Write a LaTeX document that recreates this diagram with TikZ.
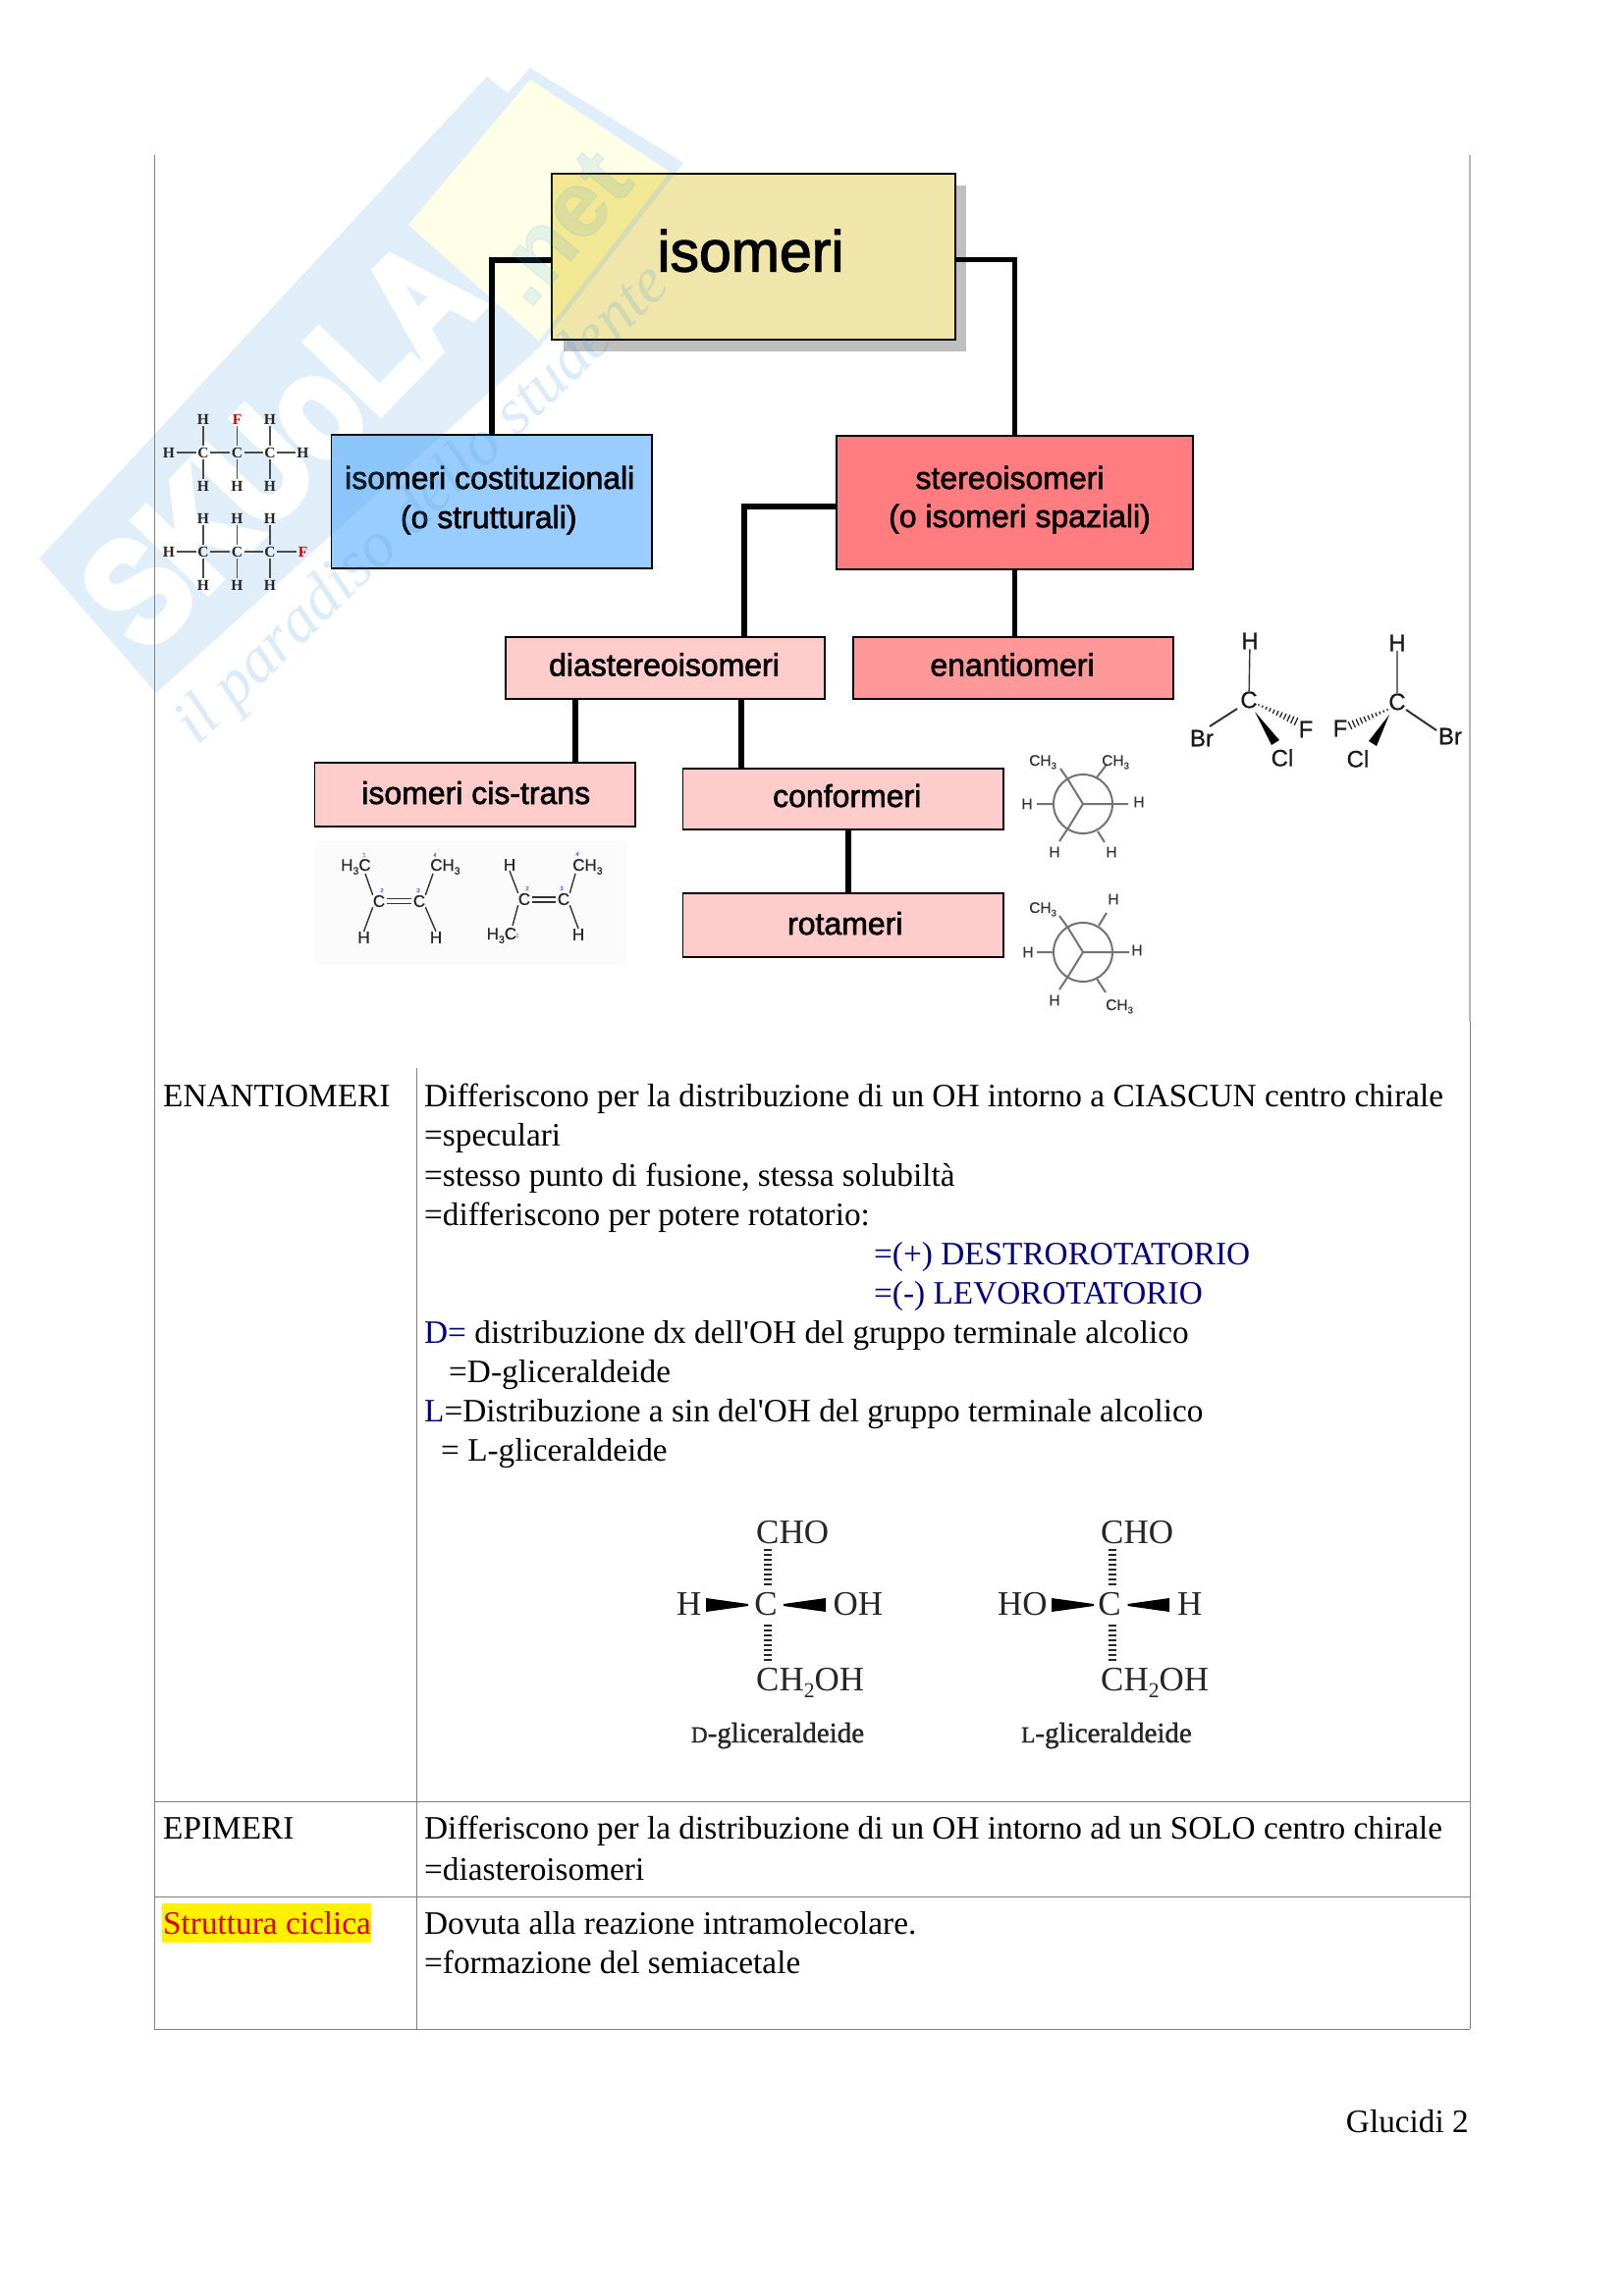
\documentclass[tikz,border=0pt]{standalone}
\usepackage{fontspec}
\usetikzlibrary{calc}
\setmainfont{Liberation Serif}
\newfontfamily\tnr{Liberation Serif}
\newfontfamily\arialf[FakeBold=0.6]{Liberation Sans}
\newfontfamily\arialb[FakeBold=2]{Liberation Sans}
\newfontfamily\arialheavy[FakeBold=6]{Liberation Sans Bold}
\newfontfamily\arialnet[FakeBold=1]{Liberation Sans Bold}
\newfontfamily\serifb[FakeBold=1.2]{Liberation Serif}
\definecolor{tline}{HTML}{808080}
\definecolor{wblue}{HTML}{DFEEF8}
\definecolor{wyellow}{HTML}{FFFFE8}
\definecolor{navytext}{HTML}{000080}
\definecolor{ovblue}{HTML}{4DA3DC}
\newcommand\lab[3]{\rlap{\hspace*{#1pt}\makebox[0pt][c]{\raisebox{#2pt}[0pt][0pt]{#3}}}}
\newcommand\sz[1]{\fontsize{#1}{#1}\selectfont}
\newcommand\chsub[1]{\raisebox{-.22em}{\scalebox{.62}{#1}}}
\tikzset{
  tbl/.style={draw=tline,line width=1pt},
  tx/.style={inner sep=0pt,anchor=base west,font=\tnr\sz{33.3}},
  blu/.style={tx,text=navytext},
  chartbox/.style={draw=black,line width=1.8pt,inner sep=0pt,outer sep=0pt,anchor=north west,font=\arialb\sz{32}},
  conn/.style={draw=black,line width=5.5pt},
  ethatom/.style={inner sep=1.5pt,font=\bfseries\sz{15.5},text=black!85},
  ethbond/.style={draw=black!70,line width=1.2pt},
  hfont/.style={inner sep=0pt,font=\arialf\sz{17},text=black!85},
  cbond/.style={draw=black!80,line width=1.4pt},
  nfont/.style={inner sep=0pt,font=\arialf\sz{15.5},text=black!80},
  nline/.style={draw=black!55,line width=2pt},
  num/.style={inner sep=0pt,font=\arialf\sz{6},text=blue!60},
  sfont/.style={inner sep=0pt,font=\arialf\sz{24},text=black!90},
  gl/.style={inner sep=0pt,anchor=base west,font=\sz{35},text=black!85},
  gltitle/.style={inner sep=0pt,anchor=base,font=\serifb\sz{29},text=black!85},
  hashl/.style={draw=black!85,line width=1.3pt},
}
\newcommand\ethanemol[4]{%
  \node[ethatom] (#1c1) at (207,#2) {C};
  \node[ethatom] (#1c2) at (241.5,#2) {C};
  \node[ethatom] (#1c3) at (275,#2) {C};
  \node[ethatom] (#1l) at (172,#2) {H};
  \node[ethatom] (#1r) at (308.5,#2) {#4};
  \node[ethatom] (#1t1) at (207,#2-34) {H};
  \node[ethatom] (#1t2) at (241.5,#2-34) {#3};
  \node[ethatom] (#1t3) at (275,#2-34) {H};
  \node[ethatom] (#1b1) at (207,#2+34) {H};
  \node[ethatom] (#1b2) at (241.5,#2+34) {H};
  \node[ethatom] (#1b3) at (275,#2+34) {H};
  \draw[ethbond] (#1l)--(#1c1)--(#1c2)--(#1c3)--(#1r);
  \draw[ethbond] (#1t1)--(#1c1)--(#1b1) (#1t2)--(#1c2)--(#1b2) (#1t3)--(#1c3)--(#1b3);
}
\begin{document}
\begin{tikzpicture}[x=1pt,y=-1pt]
\useasboundingbox (0,0) rectangle (1653,2339);
\fill[white] (0,0) rectangle (1653,2339);
% ---- watermark, back part
\fill[wblue] (40,569)--(496,78)--(517,95)--(540,69)--(696,166)--(549,354)--(159,706)--cycle;
\fill[wyellow] (416,229)--(540,81)--(682,175)--(549,347)--cycle;
\node[inner sep=0pt,rotate=46,text=white,font=\arialheavy\sz{150},xscale=.82] (wmark) at (285,452) {SKUoLA};
% ---- table rules
\coordinate (tnw) at (157,158);
\coordinate (tsw) at (157,2067);
\coordinate (tne) at (1497,158);
\coordinate (tse) at (1497,2067);
\coordinate (mt) at (424,1088);
\coordinate (mb) at (424,2067);
\draw[tbl] (tnw)--(tsw)--(tse);
\draw[draw=black!28,line width=1.6pt] (tne)--(1497,1041);
\draw[tbl] (1497,1041)--(tse);
\draw[tbl] (mt)--(mb);
\draw[tbl] (157,1835)--(1497,1835);
\draw[tbl] (157,1932)--(1497,1932);
% ---- chart
\fill[black!25] (574,189) rectangle (984,358);
\node[chartbox,minimum width=411pt,minimum height=169pt,font=\arialb\sz{59},fill={rgb,255:red,240;green,230;blue,170}] (isomeri) at (562,177) {\lab{-3}{-15}{isomeri}};
\node[chartbox,fill={rgb,255:red,153;green,204;blue,255},minimum width=326.5pt,minimum height=136pt] (cost) at (337.5,443) {\lab{-2}{13}{isomeri costituzionali}\lab{-3}{-27}{(o strutturali)}};
\node[chartbox,fill={rgb,255:red,255;green,124;blue,128},minimum width=363pt,minimum height=136pt] (stereo) at (852,444) {\lab{-5}{14}{stereoisomeri}\lab{5}{-25}{(o isomeri spaziali)}};
\node[chartbox,fill={rgb,255:red,255;green,153;blue,153},minimum width=326pt,minimum height=63pt] (enant) at (869,649) {\lab{-1}{-8}{enantiomeri}};
\node[chartbox,fill={rgb,255:red,255;green,204;blue,204},minimum width=325pt,minimum height=63pt] (diast) at (515,649) {\lab{-1}{-8}{diastereoisomeri}};
\node[chartbox,fill={rgb,255:red,255;green,204;blue,204},minimum width=326.5pt,minimum height=65pt] (cistrans) at (320.5,777) {\lab{1}{-9.5}{isomeri cis-trans}};
\node[chartbox,fill={rgb,255:red,255;green,204;blue,204},minimum width=326.5pt,minimum height=62pt] (conf) at (695.5,783) {\lab{4}{-8}{conformeri}};
\node[chartbox,fill={rgb,255:red,255;green,204;blue,204},minimum width=326.5pt,minimum height=65pt] (rot) at (695.5,910) {\lab{2}{-9.5}{rotameri}};
% connectors
\draw[conn] ([yshift=-3.5pt]isomeri.west) -| (cost.north);
\draw[conn] ([yshift=-3pt]isomeri.east) -| (stereo.north);
\draw[conn] ([yshift=-4pt]stereo.west) -| ([xshift=80.5pt]diast.north);
\draw[conn] (stereo.south) -- (stereo.south |- enant.north);
\draw[conn] ([xshift=-91.5pt]diast.south) -- ([xshift=-91.5pt]diast.south |- cistrans.north);
\draw[conn] ([xshift=77.5pt]diast.south) -- ([xshift=77.5pt]diast.south |- conf.north);
\draw[conn] ([xshift=5pt]conf.south) -- ([xshift=5pt]conf.south |- rot.north);
% ---- watermark veil over the boxes
\begin{scope}
\clip (isomeri.south west) rectangle (isomeri.north east) (cost.south west) rectangle (cost.north east);
\fill[ovblue,opacity=.16,even odd rule] (40,569)--(496,78)--(517,95)--(540,69)--(696,166)--(549,354)--(159,706)--cycle (416,229)--(540,81)--(682,175)--(549,347)--cycle;
\fill[yellow,opacity=.14] (416,229)--(540,81)--(682,175)--(549,347)--cycle;
\end{scope}
\node[inner sep=0pt,rotate=50,text=ovblue,text opacity=.14,font=\arialnet\sz{95}] (wnet) at (570,232) {.net};
\node[inner sep=0pt,rotate=44,text=ovblue,text opacity=.2,font=\itshape\sz{66}] (wsub) at (432,515) {il paradiso dello studente};
% ---- ethanes
\ethanemol{u}{461}{\textcolor{red!80!black}{F}}{H}
\ethanemol{v}{562}{H}{\textcolor{red!80!black}{F}}
% ---- cis-trans
\fill[black!1.5] (320,857) rectangle (639,983);
\node[hfont,anchor=base west] (ah3c) at (347,887) {H\chsub{3}C};
\node[hfont,anchor=base west] (ach3) at (438,887) {CH\chsub{3}};
\node[hfont] (ac1) at (386,918) {C};
\node[hfont] (ac2) at (427,918) {C};
\node[hfont] (ah1) at (370.5,955) {H};
\node[hfont] (ah2) at (444,955) {H};
\draw[cbond] (ac1.north west)--(372,890);
\draw[cbond] (ac2.north east)--(441,890);
\draw[cbond] (ac1.south west)--(ah1.north);
\draw[cbond] (ac2.south east)--(ah2.north);
\draw[cbond] ([yshift=2.5pt,xshift=2pt]ac1.east)--([yshift=2.5pt,xshift=-2pt]ac2.west);
\draw[cbond] ([yshift=-2.5pt,xshift=2pt]ac1.east)--([yshift=-2.5pt,xshift=-2pt]ac2.west);
\node[num] (an1) at (371,871) {1};
\node[num] (an2) at (389,907) {2};
\node[num] (an3) at (426,907) {3};
\node[num] (an4) at (443,871) {4};
\node[hfont] (bh1) at (519,881) {H};
\node[hfont,anchor=base west] (bch3) at (583,887) {CH\chsub{3}};
\node[hfont] (bc1) at (534,916) {C};
\node[hfont] (bc2) at (574,916) {C};
\node[hfont,anchor=base west] (bh3c) at (495.5,957) {H\chsub{3}C};
\node[hfont] (bh2) at (589,952) {H};
\draw[cbond] (bc1.north west)--(bh1.south);
\draw[cbond] (bc2.north east)--(586,890);
\draw[cbond] (bc1.south west)--(522,943);
\draw[cbond] (bc2.south east)--(bh2.north);
\draw[cbond,line width=2pt] ([yshift=2.5pt,xshift=2pt]bc1.east)--([yshift=2.5pt,xshift=-2pt]bc2.west);
\draw[cbond,line width=2pt] ([yshift=-2.5pt,xshift=2pt]bc1.east)--([yshift=-2.5pt,xshift=-2pt]bc2.west);
\node[num] (bn2) at (537,905) {2};
\node[num] (bn3) at (572,905) {3};
\node[num] (bn4) at (588,870) {4};
\node[num] (bn1) at (527,953) {1};
% ---- Newman 1
\node[circle,nline,minimum size=60pt,inner sep=0pt] (n1) at (1103,819) {};
\draw[nline] (1087,793)--(n1.center)--(1149,819) (1087,845)--(n1.center);
\draw[nline] (1056,819)--(1073,819) (1087,793)--(1080,783) (1087,845)--(1079,857) (1117,792)--(1127,779) (1118,847)--(1125,858);
\node[nfont,anchor=base west] (n1a) at (1048,780) {CH\chsub{3}};
\node[nfont,anchor=base west] (n1b) at (1122,780) {CH\chsub{3}};
\node[nfont] (n1c) at (1046,819) {H};
\node[nfont] (n1d) at (1160,817) {H};
\node[nfont] (n1e) at (1074,868) {H};
\node[nfont] (n1f) at (1132,868) {H};
% ---- Newman 2
\node[circle,nline,minimum size=60pt,inner sep=0pt] (n2) at (1103,970) {};
\draw[nline] (1087,944)--(n2.center)--(1150,970) (1087,996)--(n2.center);
\draw[nline] (1056,970)--(1073,970) (1087,944)--(1079,933) (1087,996)--(1079,1008) (1119,943)--(1127,930) (1117,997)--(1126,1011);
\node[nfont,anchor=base west] (n2a) at (1048,930) {CH\chsub{3}};
\node[nfont] (n2b) at (1134,916) {H};
\node[nfont] (n2c) at (1047,970) {H};
\node[nfont] (n2d) at (1158,968) {H};
\node[nfont] (n2e) at (1074,1019) {H};
\node[nfont,anchor=base west] (n2f) at (1126,1029) {CH\chsub{3}};
% ---- chiral centres
\node[sfont] (s1h) at (1273,653) {H};
\node[sfont] (s1c) at (1272,713) {C};
\node[sfont] (s1br) at (1224,752) {Br};
\node[sfont] (s1f) at (1330,743) {F};
\node[sfont] (s1cl) at (1306,772) {Cl};
\draw[cbond] (s1h)--(s1c);
\draw[cbond,line width=2pt] (1260,722)--(1232,740);
\fill[black] (1278,725)--(1295,759)--(1303,754)--cycle;
\coordinate (s1p) at (1282,718);
\coordinate (s1q) at (1320,735);
\foreach \t in {0,0.1,...,1.01}{
  \pgfmathsetmacro\w{.8+3.5*\t}
  \coordinate (mm) at ($(s1p)!\t!(s1q)$);
  \draw[hashl] ($(mm)!\w pt!90:(1500,820)$)--($(mm)!\w pt!-90:(1500,820)$);
}
\node[sfont] (s2h) at (1423,655) {H};
\node[sfont] (s2c) at (1423,715) {C};
\node[sfont] (s2f) at (1365,742) {F};
\node[sfont] (s2cl) at (1383,773) {Cl};
\node[sfont] (s2br) at (1477,750) {Br};
\draw[cbond,draw=black!55,line width=2pt] (s2h)--(s2c);
\draw[cbond,line width=2pt] (1432,723)--(1463,744);
\fill[black] (1415,728)--(1394,755)--(1402,760)--cycle;
\coordinate (s2p) at (1413,723);
\coordinate (s2q) at (1375,739);
\foreach \t in {0,0.1,...,1.01}{
  \pgfmathsetmacro\w{.8+3.5*\t}
  \coordinate (mm) at ($(s2p)!\t!(s2q)$);
  \draw[hashl] ($(mm)!\w pt!90:(1200,820)$)--($(mm)!\w pt!-90:(1200,820)$);
}
% ---- table text
\node[tx] (e0) at (166,1127) {ENANTIOMERI};
\node[tx] (e1) at (432,1127) {Differiscono per la distribuzione di un OH intorno a CIASCUN centro chirale};
\node[tx] (e2) at (432,1167) {=speculari};
\node[tx] (e3) at (432,1208) {=stesso punto di fusione, stessa solubiltà};
\node[tx] (e4) at (432,1248) {=differiscono per potere rotatorio:};
\node[blu] (e5) at (890,1288) {=(+) DESTROROTATORIO};
\node[blu] (e6) at (890,1328) {=(-) LEVOROTATORIO};
\node[tx] (e7) at (432,1368) {\textcolor{navytext}{D=} distribuzione dx dell'OH del gruppo terminale alcolico};
\node[tx] (e8) at (457,1408) {=D-gliceraldeide};
\node[tx] (e9) at (432,1448) {\textcolor{navytext}{L}=Distribuzione a sin del'OH del gruppo terminale alcolico};
\node[tx] (e10) at (449,1488) {= L-gliceraldeide};
\node[tx] (p0) at (166,1873) {EPIMERI};
\node[tx] (p1) at (432,1873) {Differiscono per la distribuzione di un OH intorno ad un SOLO centro chirale};
\node[tx] (p2) at (432,1915) {=diasteroisomeri};
\fill[yellow] (165,1939) rectangle (377.5,1979);
\node[tx,text=red!85!black] (c0) at (166,1970) {Struttura ciclica};
\node[tx] (c1) at (432,1970) {Dovuta alla reazione intramolecolare.};
\node[tx] (c2) at (432,2010) {=formazione del semiacetale};
\node[tx,anchor=base east] (pg) at (1496,2172) {Glucidi 2};
% ---- glyceraldehydes
\node[gl] (dcho) at (770,1572) {CHO};
\node[gl,anchor=base] (dc) at (780,1645) {C};
\node[gl] (dh) at (689,1645) {H};
\node[gl] (doh) at (848.5,1645) {OH};
\node[gl] (dch) at (770,1722) {CH\chsub{2}OH};
\fill[black] (719,1628)--(719,1642)--(762,1636)--(762,1634)--cycle;
\fill[black] (841,1628)--(841,1642)--(798,1636)--(798,1634)--cycle;
\foreach \yy in {1579,1584,...,1615}{\draw[hashl] (778,\yy)--(786,\yy);}
\foreach \yy in {1656,1661,...,1692}{\draw[hashl] (778,\yy)--(786,\yy);}
\node[gltitle] (dt) at (792,1775) {\scalebox{.8}{D}-gliceraldeide};
\node[gl] (lcho) at (1121,1572) {CHO};
\node[gl,anchor=base] (lc) at (1130,1645) {C};
\node[gl] (lho) at (1016,1645) {HO};
\node[gl] (lh) at (1199,1645) {H};
\node[gl] (lch) at (1121,1722) {CH\chsub{2}OH};
\fill[black] (1071,1628)--(1071,1642)--(1114,1636)--(1114,1634)--cycle;
\fill[black] (1191,1628)--(1191,1642)--(1148.5,1636)--(1148.5,1634)--cycle;
\foreach \yy in {1579,1584,...,1615}{\draw[hashl] (1129,\yy)--(1137,\yy);}
\foreach \yy in {1656,1661,...,1692}{\draw[hashl] (1129,\yy)--(1137,\yy);}
\node[gltitle] (lt) at (1127,1775) {\scalebox{.8}{L}-gliceraldeide};
\end{tikzpicture}
\end{document}
